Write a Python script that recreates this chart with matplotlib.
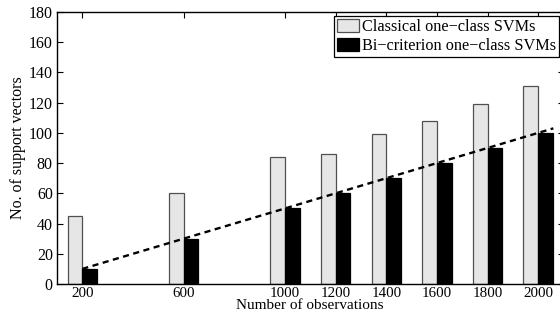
import matplotlib
matplotlib.use("Agg")
import matplotlib.pyplot as plt
import numpy as np

plt.rcParams['font.family'] = ['Liberation Serif', 'DejaVu Serif']

observations = [200, 600, 1000, 1200, 1400, 1600, 1800, 2000]
classical = [45, 60, 84, 86, 99, 108, 119, 131]
bicriterion = [10, 30, 50, 60, 70, 80, 90, 100]
trend_x = [200, 2060]
trend_y = [10, 103]
yticks = [0, 20, 40, 60, 80, 100, 120, 140, 160, 180]

fig = plt.figure(figsize=(5.6, 3.2), dpi=100)
ax = fig.add_axes([57/560, 36/320, 506.5/560, 272/320])

x = np.array(observations, dtype=float)
w = 58
ax.bar(x - w/2, classical, width=w, color='#e6e6e6', edgecolor='#505050', linewidth=0.9,
       label='Classical one\u2212class SVMs', zorder=2)
ax.bar(x + w/2, bicriterion, width=w, color='black', edgecolor='black', linewidth=0.9,
       label='Bi\u2212criterion one\u2212class SVMs', zorder=2)
ax.plot(trend_x, trend_y, color='black', linestyle=(0, (2.6, 1.9)), linewidth=1.7, zorder=3)

ax.set_xlim(100, 2100)
ax.set_ylim(0, 180)
ax.set_xticks(observations)
ax.set_yticks(yticks)
ax.tick_params(direction='in', length=4, width=0.8, top=True, right=True)
ax.tick_params(axis='x', pad=2, labelsize=10.8)
ax.tick_params(axis='y', pad=3, labelsize=11.5)
for s in ax.spines.values():
    s.set_linewidth(1.0)

ax.set_xlabel('Number of observations', fontsize=11, labelpad=-0.5)
ax.set_ylabel('No. of support vectors', fontsize=11.5, labelpad=2)

leg = ax.legend(loc='upper right', fontsize=11.7, frameon=True, fancybox=False,
                edgecolor='black', framealpha=1, borderpad=0.2, labelspacing=0.17,
                handlelength=1.35, handleheight=0.86, handletextpad=0.18,
                borderaxespad=0.0, bbox_to_anchor=(502/506.5, 1 - 3.7/272))
leg.get_frame().set_linewidth(0.9)

fig.savefig('out.png', dpi=100)
